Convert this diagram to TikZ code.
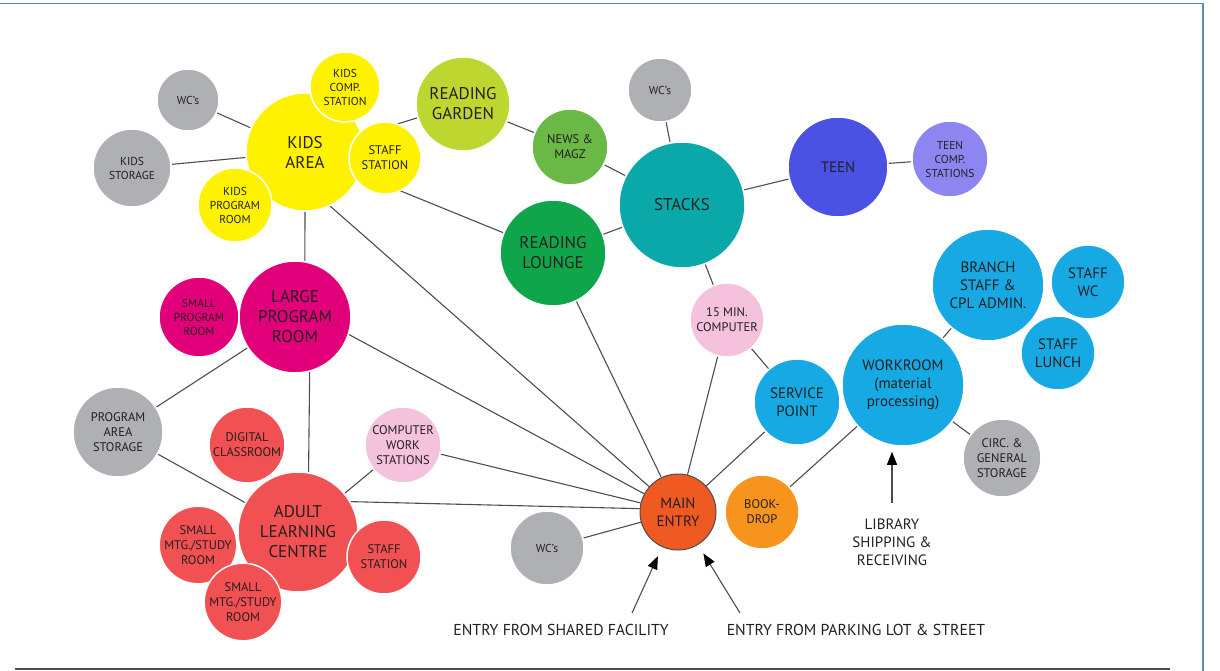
\documentclass[tikz,border=0pt]{standalone}
\usepackage{fontspec}
\setmainfont{PT Sans}
\usetikzlibrary{backgrounds,arrows.meta}

\definecolor{ink}{HTML}{231F20}
\definecolor{linkgray}{HTML}{4D4D4D}
\definecolor{kidsyel}{HTML}{FFF200}
\definecolor{gardengr}{HTML}{BED630}
\definecolor{newsgr}{HTML}{6AB846}
\definecolor{loungegr}{HTML}{0FA64B}
\definecolor{stackteal}{HTML}{0AA8A8}
\definecolor{teenblue}{HTML}{4B51E2}
\definecolor{teenlav}{HTML}{8E86F0}
\definecolor{roomgray}{HTML}{AEB0B3}
\definecolor{progmag}{HTML}{E2007A}
\definecolor{adultred}{HTML}{F15152}
\definecolor{comppink}{HTML}{F4C2DC}
\definecolor{staffblue}{HTML}{17A9E3}
\definecolor{entryor}{HTML}{EF5A22}
\definecolor{dropor}{HTML}{F7941D}
\definecolor{framebl}{HTML}{5A8DB2}

\tikzset{
  bub/.style={circle, draw=white, line width=1.5pt, inner sep=0pt, align=center, text=ink},
  lg/.style={font=\fontsize{17}{20}\selectfont},
  md/.style={font=\fontsize{15}{18}\selectfont},
  sm/.style={font=\fontsize{12.5}{15}\selectfont},
  xs/.style={font=\fontsize{11.5}{14}\selectfont},
  entrylbl/.style={font=\fontsize{15.8}{19}\selectfont, text=ink},
  link/.style={draw=linkgray, line width=1.1pt},
  arr/.style={draw=linkgray, line width=1.1pt, -{Triangle[length=13pt,width=10pt,color=black]}},
}

\begin{document}
\begin{tikzpicture}[x=1pt,y=-1pt]
\useasboundingbox (0,0) rectangle (1220,671);
\draw[framebl, line width=1.2pt] (0,3.5) -- (1203,3.5) -- (1203,671);
\draw[linkgray, line width=2pt] (15,669) -- (1170,669);

% kids wing
\node[bub, lg, fill=kidsyel, minimum size=118pt] (kids) at (305,152) {KIDS\\AREA};
\node[bub, xs, fill=kidsyel, minimum size=70pt] (kidscomp) at (345,87) {KIDS\\COMP.\\STATION};
\node[bub, sm, fill=kidsyel, minimum size=72pt] (kidsstaff) at (385,158) {STAFF\\STATION};
\node[bub, xs, fill=kidsyel, minimum size=74pt] (kidsprog) at (235,205) {KIDS\\PROGRAM\\ROOM};
\node[bub, xs, fill=roomgray, minimum size=62pt] (wctl) at (188,100) {WC’s};
\node[bub, xs, fill=roomgray, minimum size=78pt] (kidsstor) at (132,168) {KIDS\\STORAGE};

% reading and stacks
\node[bub, lg, fill=gardengr, minimum size=94pt] (garden) at (463,104) {READING\\GARDEN};
\node[bub, sm, fill=newsgr, minimum size=76pt] (news) at (570,147) {NEWS \&\\MAGZ};
\node[bub, xs, fill=roomgray, minimum size=64pt] (wctop) at (660,90) {WC’s};
\node[bub, lg, fill=stackteal, minimum size=126pt] (stacks) at (682,205) {STACKS};
\node[bub, lg, fill=loungegr, minimum size=106pt] (lounge) at (553,253) {READING\\LOUNGE};
\node[bub, md, fill=teenblue, minimum size=100pt] (teen) at (838,167) {TEEN};
\node[bub, xs, fill=teenlav, minimum size=76pt] (teencomp) at (950,159) {TEEN\\COMP.\\STATIONS};

% staff side
\node[bub, md, fill=staffblue, minimum size=112pt] (branch) at (988,285) {BRANCH\\STAFF \&\\CPL ADMIN.};
\node[bub, md, fill=staffblue, minimum size=74pt] (staffwc) at (1088,282) {STAFF\\WC};
\node[bub, md, fill=staffblue, minimum size=74pt] (lunch) at (1058,353) {STAFF\\LUNCH};
\node[bub, md, fill=staffblue, minimum size=122pt] (work) at (903,385) {WORKROOM\\(material\\processing)};
\node[bub, sm, fill=roomgray, minimum size=78pt] (circ) at (1002,458) {CIRC. \&\\GENERAL\\STORAGE};
\node[bub, sm, fill=comppink, minimum size=74pt] (quick) at (727,320) {15 MIN.\\COMPUTER};
\node[bub, md, fill=staffblue, minimum size=86pt] (service) at (797,402) {SERVICE\\POINT};
\node[bub, md, fill=entryor, draw=ink!80, line width=1pt, minimum size=76pt] (entry) at (678,512) {MAIN\\ENTRY};
\node[bub, sm, fill=dropor, minimum size=74pt] (bookdrop) at (762,512) {BOOK-\\DROP};
\node[bub, xs, fill=roomgray, minimum size=74pt] (wcbot) at (547,548) {WC’s};

% program and adult
\node[bub, lg, fill=progmag, minimum size=112pt] (large) at (295,317) {LARGE\\PROGRAM\\ROOM};
\node[bub, xs, fill=progmag, minimum size=80pt] (smallprog) at (199,317) {SMALL\\PROGRAM\\ROOM};
\node[bub, sm, fill=roomgray, minimum size=90pt] (progstor) at (118,432) {PROGRAM\\AREA\\STORAGE};
\node[bub, sm, fill=adultred, minimum size=76pt] (digital) at (247,445) {DIGITAL\\CLASSROOM};
\node[bub, sm, fill=comppink, minimum size=76pt] (compws) at (403,445) {COMPUTER\\WORK\\STATIONS};
\node[bub, lg, fill=adultred, minimum size=120pt] (adult) at (298,532) {ADULT\\LEARNING\\CENTRE};
\node[bub, sm, fill=adultred, minimum size=72pt] (mtga) at (198,545) {SMALL\\MTG./STUDY\\ROOM};
\node[bub, sm, fill=adultred, minimum size=74pt] (mtgb) at (243,602) {SMALL\\MTG./STUDY\\ROOM};
\node[bub, sm, fill=adultred, minimum size=74pt] (adultstaff) at (384,557) {STAFF\\STATION};

% entries
\coordinate (sharedin) at (632,613);
\coordinate (parkin) at (740,613);
\coordinate (shipin) at (892,503);
\node[entrylbl] (sharedlbl) at (561,630) {ENTRY FROM SHARED FACILITY};
\node[entrylbl] (parklbl) at (856,630) {ENTRY FROM PARKING LOT \& STREET};
\node[md, text=ink, align=center] (shiplbl) at (892,542) {LIBRARY\\SHIPPING \&\\RECEIVING};
\draw[arr, shorten >=10pt] (sharedin) -- (entry);
\draw[arr, shorten >=10pt] (parkin) -- (entry);
\draw[arr, shorten >=5pt] (shipin) -- (shipin |- work.south);

\begin{scope}[on background layer]
\draw[link] (wctl) -- (kids);
\draw[link] (kidsstor) -- (kids);
\draw[link] (kids) -- (garden);
\draw[link] (kids) -- (lounge);
\draw[link] (kids.-65) -- (entry);
\draw[link] (kids.south) -- (large.80);
\draw[link] (garden) -- (news);
\draw[link] (news) -- (stacks);
\draw[link] (wctop) -- (stacks);
\draw[link] (stacks) -- (teen);
\draw[link] (teen) -- (teencomp);
\draw[link] (stacks) -- (lounge);
\draw[link] (stacks) -- (quick);
\draw[link] (lounge) -- (entry);
\draw[link] (quick) -- (entry);
\draw[link] (quick) -- (service);
\draw[link] (service) -- (entry);
\draw[link] (bookdrop) -- (work);
\draw[link] (work) -- (branch);
\draw[link] (work) -- (circ);
\draw[link] (large.-18) -- (entry);
\draw[link] (large) -- (progstor);
\draw[link] (large.-75) -- (adult.80);
\draw[link] (progstor) -- (adult);
\draw[link] (adult) -- (compws);
\draw[link] (compws) -- (entry);
\draw[link] (adult.30) -- (entry.175);
\draw[link] (wcbot) -- (entry);
\end{scope}
\end{tikzpicture}
\end{document}
